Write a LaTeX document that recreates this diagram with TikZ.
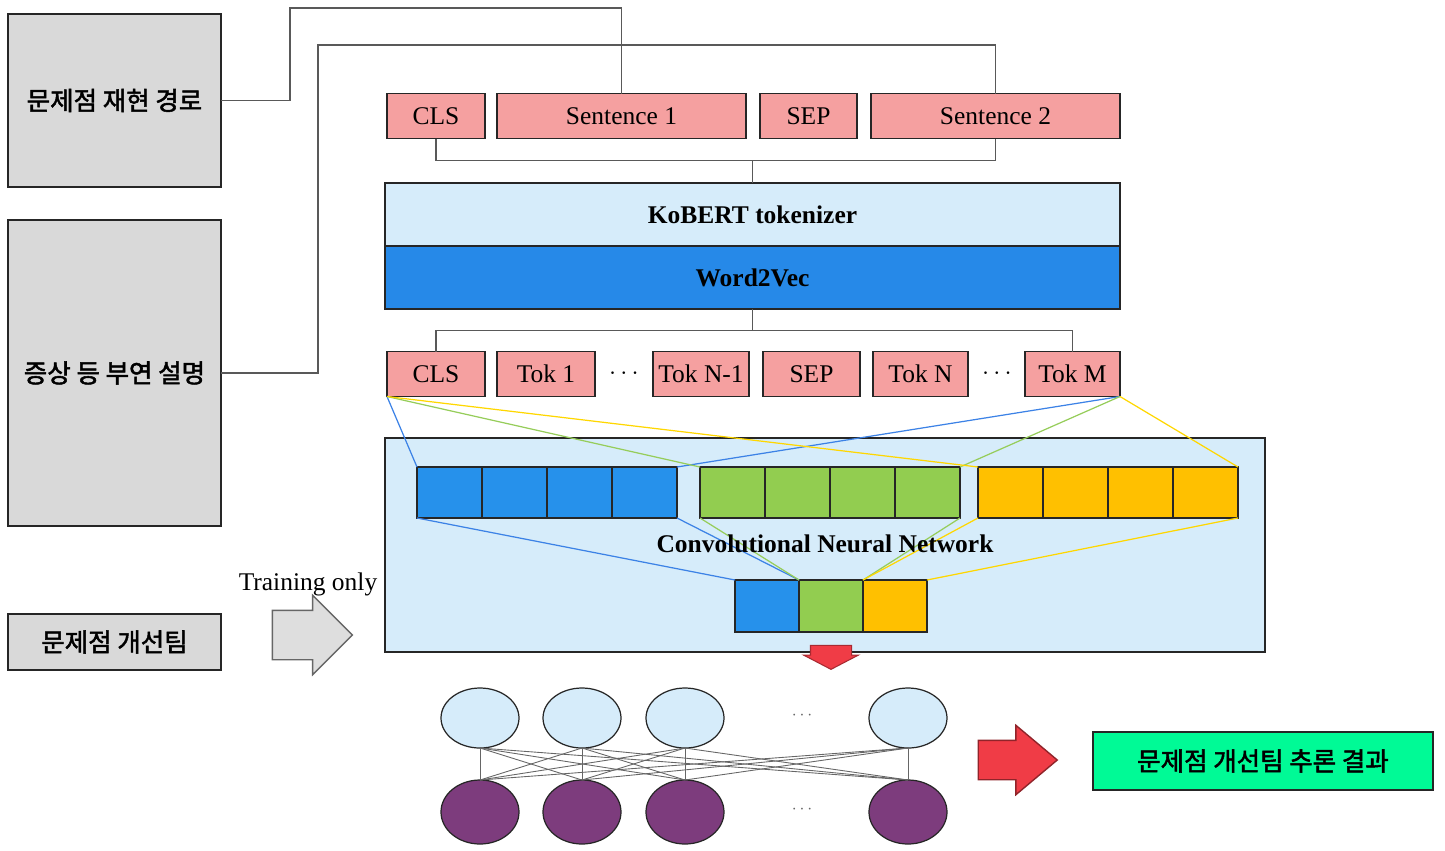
\documentclass[tikz,border=0pt]{standalone}
\usepackage{fontspec}
\setmainfont{Liberation Serif}
\newfontfamily\kofont{Noto Sans CJK KR}[AutoFakeBold=2]
\usetikzlibrary{shapes.geometric,shapes.arrows}
\newcommand\pxu{0.02cm}
\definecolor{boxgray}{RGB}{217,217,217}
\definecolor{tokpink}{RGB}{245,160,160}
\definecolor{layerblue}{RGB}{214,236,250}
\definecolor{w2vblue}{RGB}{38,137,232}
\definecolor{cnnblue}{RGB}{214,236,250}
\definecolor{cellblue}{RGB}{38,145,235}
\definecolor{cellgreen}{RGB}{146,205,80}
\definecolor{cellyellow}{RGB}{255,192,0}
\definecolor{lineblue}{RGB}{60,130,230}
\definecolor{linegreen}{RGB}{150,205,90}
\definecolor{lineyellow}{RGB}{255,215,0}
\definecolor{arrowred}{RGB}{240,60,70}
\definecolor{arrowgray}{RGB}{222,222,222}
\definecolor{resultgreen}{RGB}{0,250,150}
\definecolor{inblue}{RGB}{214,236,250}
\definecolor{outpurple}{RGB}{125,60,125}
\begin{document}
\begin{tikzpicture}[x=\pxu, y=-\pxu,
            every node/.style={inner sep=0pt, outer sep=0pt},
            box/.style={draw=black!85, line width=0.8pt},
            graybox/.style={box, fill=boxgray, minimum width=213*\pxu, font=\kofont\bfseries\fontsize{14.5}{17}\selectfont},
            tok/.style={box, fill=tokpink, minimum height=45*\pxu, font=\fontsize{14.5}{17}\selectfont},
            layer/.style={box, minimum width=735*\pxu, minimum height=63*\pxu, font=\bfseries\fontsize{14.5}{17}\selectfont},
            cell/.style={box, minimum width=65*\pxu, minimum height=51*\pxu, anchor=north west},
            wire/.style={draw=black!65, line width=0.8pt},
            feed/.style={line width=0.7pt},
            neuron/.style={ellipse, draw=black!85, line width=0.7pt, minimum width=78*\pxu},
            synapse/.style={draw=black!60, line width=0.5pt},
            label/.style={font=\fontsize{14.5}{17}\selectfont}]
\useasboundingbox (0,0) rectangle (1445,850);

\node[graybox, minimum height=173*\pxu] (repro) at (114.5,100.5) {문제점 재현 경로};
\node[graybox, minimum height=306*\pxu] (symptom) at (114.5,373) {증상 등 부연 설명};
\node[graybox, minimum height=56*\pxu] (team) at (114.5,642) {문제점 개선팀};

\node[tok, minimum width=98*\pxu] (cls1) at (436,116) {CLS};
\node[tok, minimum width=249*\pxu] (sent1) at (621.5,116) {Sentence 1};
\node[tok, minimum width=97*\pxu] (sep1) at (808.5,116) {SEP};
\node[tok, minimum width=249*\pxu] (sent2) at (995.5,116) {Sentence 2};

\node[layer, fill=layerblue] (kobert) at (752.5,214.5) {KoBERT tokenizer};
\node[layer, fill=w2vblue] (w2v) at (752.5,277.5) {Word2Vec};

\node[tok, minimum width=98*\pxu] (cls2) at (436,374) {CLS};
\node[tok, minimum width=98*\pxu] (tok1) at (546,374) {Tok 1};
\node[label] (dotsa) at (624,374) {$\cdots$};
\node[tok, minimum width=96*\pxu] (tokn1) at (701,374) {Tok N-1};
\node[tok, minimum width=97*\pxu] (sep2) at (811.5,374) {SEP};
\node[tok, minimum width=95*\pxu] (tokn) at (920.5,374) {Tok N};
\node[label] (dotsb) at (997,374) {$\cdots$};
\node[tok, minimum width=95*\pxu] (tokm) at (1072.5,374) {Tok M};

\draw[wire] (repro.east) -| (290,8) -| (sent1.north);
\draw[wire] (symptom.east) -| (318,45) -| (sent2.north);
\draw[wire] (cls1.south) -- ++(0,22) -| (sent2.south);
\draw[wire] (kobert.north) -- ++(0,-22);
\draw[wire] (w2v.south) -- ++(0,22);
\draw[wire] (cls2.north) -- ++(0,-21) -| (tokm.north);

\node[box, fill=cnnblue, minimum width=880*\pxu, minimum height=214*\pxu] (cnn) at (825,545) {};
\foreach \n/\c/\x in {b/cellblue/417, g/cellgreen/700, y/cellyellow/978}{
    \foreach \i in {0,...,3}
        \node[cell, fill=\c] (\n\i) at ({\x+65*\i},467) {};
}
\foreach \n/\c [count=\i from 0] in {b/cellblue, g/cellgreen, y/cellyellow}
    \node[cell, fill=\c, minimum width=64*\pxu, minimum height=52*\pxu] (s\n) at ({735+64*\i},580) {};
\foreach \n/\c in {b/lineblue, g/linegreen, y/lineyellow}{
    \draw[feed, draw=\c] (cls2.south west) -- (\n0.north west);
    \draw[feed, draw=\c] (tokm.south east) -- (\n3.north east);
    \draw[feed, draw=\c] (\n0.south west) -- (s\n.north west);
    \draw[feed, draw=\c] (\n3.south east) -- (s\n.north east);
}
\node[label, font=\bfseries\fontsize{14.5}{17}\selectfont] (cnnlabel) at (825,544) {Convolutional Neural Network};

\node[single arrow, rotate=-90, fill=arrowred, draw=arrowred!70!black, line width=0.6pt,
      minimum height=24*\pxu, inner ysep=20*\pxu, single arrow head extend=7*\pxu,
      single arrow tip angle=125] (down) at (831,652) {};
\node[single arrow, fill=arrowgray, draw=black!60, line width=0.8pt, minimum height=80*\pxu,
      inner ysep=24*\pxu, single arrow head extend=15*\pxu] (train) at (300,635) {};
\node[label] (trainlabel) at (308,584) {Training only};

\foreach \x [count=\i] in {480,582,685,908}{
    \node[neuron, fill=inblue, minimum height=60*\pxu] (in\i) at (\x,718) {};
    \node[neuron, fill=outpurple, minimum height=64*\pxu] (out\i) at (\x,812) {};
}
\foreach \i in {1,...,4}
    \foreach \j in {1,...,4}
        \draw[synapse] (in\i.south) -- (out\j.north);
\node[text=black!60] (dotsin) at (802,716) {$\cdots$};
\node[text=black!60] (dotsout) at (802,810) {$\cdots$};

\node[single arrow, fill=arrowred, draw=arrowred!60!black, line width=0.8pt, minimum height=79*\pxu,
      inner ysep=19*\pxu, single arrow head extend=15*\pxu, single arrow tip angle=80] (toresult) at (1006,760) {};
\node[box, fill=resultgreen, minimum width=340*\pxu, minimum height=58*\pxu,
      font=\kofont\bfseries\fontsize{14.5}{17}\selectfont] (result) at (1263,761) {문제점 개선팀 추론 결과};

\end{tikzpicture}
\end{document}
